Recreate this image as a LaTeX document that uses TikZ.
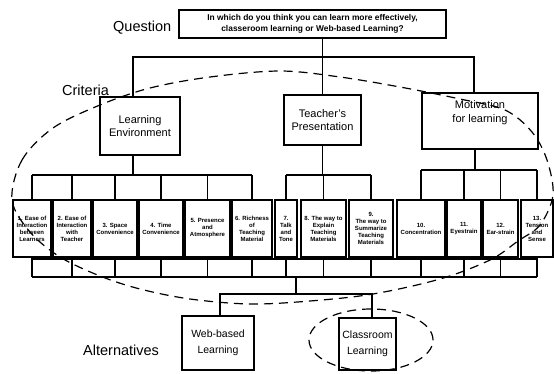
\documentclass[tikz,border=0pt]{standalone}
\usepackage{fontspec}
\setmainfont{Liberation Sans}
\begin{document}
\begin{tikzpicture}[x=1pt,y=-1pt,
  conn/.style={line width=1.25pt},
  qbox/.style={draw, line width=1.25pt, inner sep=0pt, align=center,
    font=\fontsize{8.4}{11.5}\selectfont\bfseries},
  headbox/.style={draw, line width=1.25pt, inner sep=0pt, align=center,
    font=\fontsize{11}{13.5}\selectfont},
  critbox/.style={draw, line width=1.5pt, inner sep=0pt, align=center,
    minimum height=57pt, font=\fontsize{6}{7}\selectfont\bfseries},
  altbox/.style={draw, line width=1.25pt, inner sep=0pt, align=center,
    font=\fontsize{10.5}{16}\selectfont},
  levellabel/.style={anchor=west, inner sep=0pt, font=\fontsize{14.5}{17}\selectfont},
  hull/.style={line width=1.2pt, dash pattern=on 9pt off 6pt}]
\fill[white] (0,0) rectangle (554,373);
\useasboundingbox (0,0) rectangle (554,373);

% level labels
\node[levellabel] (lq) at (113,28) {Question};
\node[levellabel] (lc) at (62,90) {Criteria};
\node[levellabel] (la) at (83,350) {Alternatives};

% goal
\node[qbox, minimum width=267pt, minimum height=28pt] (q) at (312.5,24)
  {In which do you think you can learn more effectively,\\classeroom learning or Web-based Learning?};

% criteria groups
\node[headbox, minimum width=80pt, minimum height=58pt] (le) at (140,126) {Learning\\Environment};
\node[headbox, minimum width=77pt, minimum height=50pt] (tp) at (322.5,120) {Teacher's\\Presentation};
\node[headbox, minimum width=116pt, minimum height=56pt] (mot) at (480,121) {Motivation\\for learning\\[5pt]};

% individual criteria
\node[critbox, minimum width=38pt] (c1) at (32,228.5) {1. Ease of\\Interaction\\between\\Learners};
\node[critbox, minimum width=38pt] (c2) at (72,228.5) {2. Ease of\\Interaction\\with\\Teacher};
\node[critbox, minimum width=44pt] (c3) at (115,228.5) {3. Space\\Convenience};
\node[critbox, minimum width=44pt] (c4) at (161,228.5) {4. Time\\Convenience};
\node[critbox, minimum width=45pt] (c5) at (207.5,228.5) {5. Presence\\and\\Atmosphere};
\node[critbox, minimum width=40pt] (c6) at (252,228.5) {6. Richness\\of\\Teaching\\Material};
\node[critbox, minimum width=22pt] (c7) at (286,228.5) {7.\\Talk\\and\\Tone};
\node[critbox, minimum width=45pt] (c8) at (323.5,228.5) {8. The way to\\Explain\\Teaching\\Materials};
\node[critbox, minimum width=44pt] (c9) at (371,228.5) {9.\\The way to\\Summarize\\Teaching\\Materials};
\node[critbox, minimum width=48pt] (c10) at (421,228.5) {10.\\Concentration};
\node[critbox, minimum width=34pt] (c11) at (464,228.5) {11.\\Eyestrain};
\node[critbox, minimum width=35pt] (c12) at (500.5,228.5) {12.\\Ear-strain};
\node[critbox, minimum width=32pt] (c13) at (537,228.5) {13.\\Tension\\and\\Sense};

% alternatives
\node[altbox, minimum width=72pt, minimum height=54pt] (web) at (218,343) {Web-based\\Learning};
\node[altbox, minimum width=57pt, minimum height=52pt] (cls) at (367.5,344) {Classroom\\Learning};

% bus heights
\coordinate (ytop) at (0,57);
\coordinate (yle) at (0,175);
\coordinate (ymot) at (0,170);
\coordinate (ylow) at (0,259);
\coordinate (yjoin) at (0,277);
\coordinate (yalt) at (0,294);
\coordinate (drop) at (296,277);

% goal to groups
\draw[conn] (q.south -| tp.north) -- (tp.north);
\draw[conn] ([xshift=-7pt]le.north) -- ([xshift=-7pt]le.north |- ytop)
  -- ([xshift=-6pt]mot.north |- ytop) -- ([xshift=-6pt]mot.north);

% groups to criteria
\draw[conn] ([xshift=-7pt]le.south) -- ([xshift=-7pt]le.south |- yle);
\draw[conn] (c1.north |- yle) -- (c6.north |- yle);
\foreach \i in {1,...,6} \draw[conn] (c\i.north |- yle) -- (c\i.north);
\draw[conn] (tp.south) -- (tp.south |- yle);
\draw[conn] (c7.north |- yle) -- (c9.north |- yle);
\foreach \i in {7,8,9} \draw[conn] (c\i.north |- yle) -- (c\i.north);
\draw[conn] ([xshift=-5pt]mot.south) -- ([xshift=-5pt]mot.south |- ymot);
\draw[conn] (c10.north |- ymot) -- (c13.north |- ymot);
\foreach \i in {10,...,13} \draw[conn] (c\i.north |- ymot) -- (c\i.north);

% criteria to alternatives
\draw[conn] (c1.south |- ylow) -- (c13.south |- ylow);
\foreach \i in {1,...,13} \draw[conn] (c\i.south) -- (c\i.south |- yjoin);
\draw[conn] (c1.south |- yjoin) -- (c13.south |- yjoin);
\draw[conn] (drop) -- (drop |- yalt);
\draw[conn] ([xshift=2pt]web.north) -- ([xshift=2pt]web.north |- yalt)
  -- ([xshift=4.5pt]cls.north |- yalt) -- ([xshift=4.5pt]cls.north);

% dashed outlines
\draw[hull] plot[smooth cycle, tension=0.55] coordinates {
  (12,200) (22,160) (53,128) (100,105) (150,88) (210,77) (280,71) (340,77)
  (400,87) (460,99) (505,110) (532,132) (547,160) (553,195) (540,225)
  (518,241) (490,260) (440,279) (373,294) (310,301) (250,304) (190,299)
  (140,289) (100,276) (60,257) (30,232)};
\draw[hull] (371,340) ellipse (62pt and 31pt);
\end{tikzpicture}
\end{document}
